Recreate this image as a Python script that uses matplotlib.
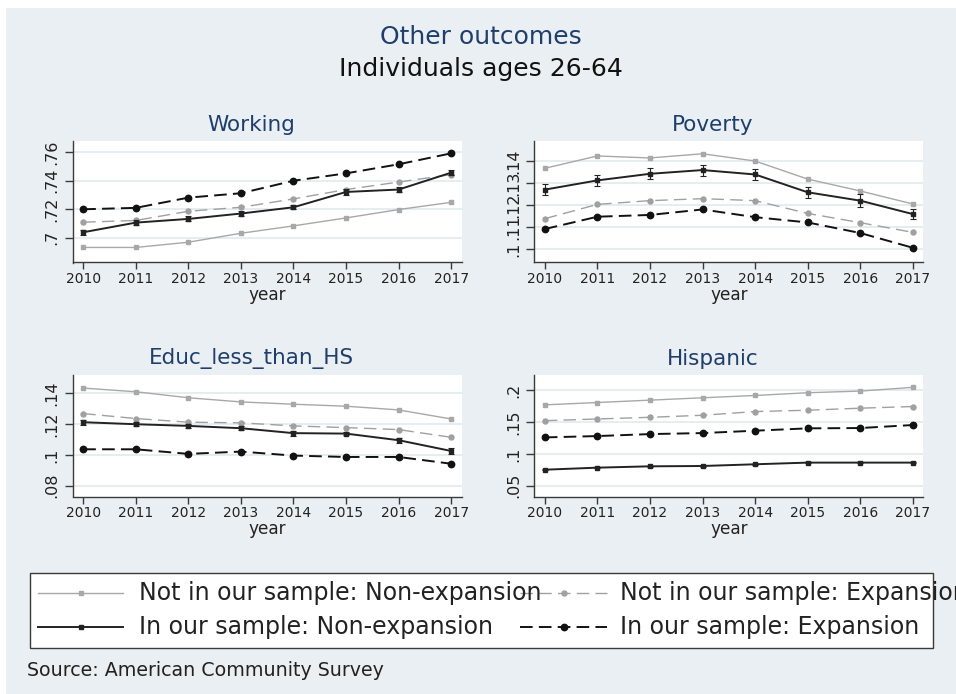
import matplotlib
matplotlib.use("Agg")
import matplotlib.pyplot as plt
from matplotlib.lines import Line2D
from matplotlib.patches import Rectangle
from matplotlib.ticker import FixedLocator, FuncFormatter

plt.rcParams['font.family'] = ['DejaVu Sans']

years = [2010, 2011, 2012, 2013, 2014, 2015, 2016, 2017]
series_names = ["Not in our sample: Non-expansion", "Not in our sample: Expansion",
                "In our sample: Non-expansion", "In our sample: Expansion"]

# Working
work_out_nonexp = [0.693, 0.693, 0.6967, 0.703, 0.7082, 0.7138, 0.7197, 0.7248]
work_out_exp = [0.7108, 0.712, 0.7185, 0.7213, 0.7272, 0.7338, 0.7391, 0.7443]
work_in_nonexp = [0.7037, 0.7105, 0.7131, 0.7169, 0.7213, 0.7321, 0.7338, 0.7457]
work_in_exp = [0.7199, 0.7209, 0.7281, 0.7312, 0.740, 0.7452, 0.7516, 0.7593]
work_in_nonexp_ci = [0.0018, 0.0018, 0.0018, 0.0015, 0.0015, 0.0018, 0.0018, 0.0016]

# Poverty
pov_out_nonexp = [0.1367, 0.1423, 0.1414, 0.1433, 0.140, 0.1318, 0.1264, 0.1205]
pov_out_exp = [0.1138, 0.1203, 0.122, 0.1229, 0.122, 0.1162, 0.112, 0.1076]
pov_in_nonexp = [0.127, 0.1312, 0.1342, 0.1359, 0.1339, 0.1258, 0.122, 0.1159]
pov_in_exp = [0.1091, 0.1147, 0.1155, 0.118, 0.1145, 0.1121, 0.1073, 0.1006]
pov_in_nonexp_ci = [0.0024, 0.0025, 0.0025, 0.0025, 0.0026, 0.0024, 0.0028, 0.0021]

# Educ_less_than_HS
educ_out_nonexp = [0.1435, 0.1411, 0.1372, 0.1345, 0.133, 0.1317, 0.1293, 0.1234]
educ_out_exp = [0.1269, 0.1237, 0.1213, 0.1209, 0.1189, 0.1178, 0.1165, 0.1115]
educ_in_nonexp = [0.1213, 0.120, 0.1189, 0.1174, 0.1142, 0.1139, 0.1096, 0.1026]
educ_in_exp = [0.1037, 0.1037, 0.1007, 0.1022, 0.0996, 0.0987, 0.0987, 0.0943]
educ_in_nonexp_ci = [0.0015, 0.0012, 0.0012, 0.0012, 0.0016, 0.0012, 0.0016, 0.0018]

# Hispanic
hisp_out_nonexp = [0.1768, 0.1805, 0.1842, 0.1879, 0.1915, 0.1958, 0.1984, 0.2042]
hisp_out_exp = [0.152, 0.1547, 0.1573, 0.1605, 0.1663, 0.1684, 0.1716, 0.1742]
hisp_in_nonexp = [0.0752, 0.0784, 0.0805, 0.081, 0.0837, 0.0863, 0.0863, 0.0863]
hisp_in_exp = [0.1258, 0.1279, 0.131, 0.1326, 0.1363, 0.140, 0.1405, 0.1452]
hisp_in_nonexp_ci = [0.0012, 0.0012, 0.0011, 0.0011, 0.0012, 0.0012, 0.0012, 0.0012]

work_ticks = [0.70, 0.72, 0.74, 0.76]
pov_ticks = [0.10, 0.11, 0.12, 0.13, 0.14]
educ_ticks = [0.08, 0.10, 0.12, 0.14]
hisp_ticks = [0.05, 0.10, 0.15, 0.20]

panels = [
    ("Working", work_out_nonexp, work_out_exp, work_in_nonexp, work_in_exp,
     work_in_nonexp_ci, work_ticks, (0.6824, 0.768)),
    ("Poverty", pov_out_nonexp, pov_out_exp, pov_in_nonexp, pov_in_exp,
     pov_in_nonexp_ci, pov_ticks, (0.0939, 0.1491)),
    ("Educ_less_than_HS", educ_out_nonexp, educ_out_exp, educ_in_nonexp, educ_in_exp,
     educ_in_nonexp_ci, educ_ticks, (0.073, 0.152)),
    ("Hispanic", hisp_out_nonexp, hisp_out_exp, hisp_in_nonexp, hisp_in_exp,
     hisp_in_nonexp_ci, hisp_ticks, (0.0332, 0.2236)),
]

# line styles for the four groups (dashes scale with line width)
styles = [
    dict(color='#a8a8a8', ls='-', lw=1.0, marker='s', ms=2.6, mfc='#a8a8a8', mec='#a8a8a8'),
    dict(color='#a0a0a0', ls=(0, (9, 4.5)), lw=1.0, marker='o', ms=3.6, mfc='#a0a0a0', mec='#a0a0a0'),
    dict(color='#222222', ls='-', lw=1.4, marker='s', ms=3.0, mfc='#222222', mec='#222222'),
    dict(color='#111111', ls=(0, (6.5, 3.2)), lw=1.4, marker='o', ms=4.6, mfc='#111111', mec='#111111'),
]

BG = '#e9eff2'
NAVY = '#1f3e6b'
W, H = 956, 694

fig = plt.figure(figsize=(W / 100, H / 100), dpi=100, facecolor='white')
fig.patches.append(Rectangle((6 / W, 0), 1 - 6 / W, 1 - 8 / H, transform=fig.transFigure,
                             facecolor=BG, edgecolor='none', zorder=-10))

# pixel boxes of the four plot regions: left, top
boxes = [(72.7, 141), (534.3, 141), (72.7, 375), (534.3, 375)]
bw, bh = 389, 121.5

fmt = FuncFormatter(lambda v, p: ("%g" % v).lstrip('0'))

for (title, s0, s1, s2, s3, ci, ticks, ylim), (lx, ty) in zip(panels, boxes):
    ax = fig.add_axes([lx / W, 1 - (ty + bh) / H, bw / W, bh / H])
    ax.set_facecolor('white')
    ax.plot(years, s0, **styles[0], zorder=3)
    ax.plot(years, s1, **styles[1], zorder=3)
    ax.errorbar(years, s2, yerr=ci, ecolor='#222222', elinewidth=0.8, capsize=2,
                capthick=0.8, zorder=4, **styles[2])
    ax.plot(years, s3, **styles[3], zorder=5)

    ax.set_xlim(2009.8, 2017.2)
    ax.set_ylim(*ylim)
    ax.set_xticks(years)
    ax.yaxis.set_major_locator(FixedLocator(ticks))
    ax.yaxis.set_major_formatter(fmt)
    ax.grid(axis='y', color='#e3ecef', lw=1.3, zorder=0)
    ax.set_axisbelow(True)
    for sp in ['top', 'right']:
        ax.spines[sp].set_visible(False)
    for sp in ['left', 'bottom']:
        ax.spines[sp].set_color('#3a3a3a')
        ax.spines[sp].set_linewidth(1.0)
    ax.tick_params(axis='x', labelsize=10, length=5, width=1, color='#3a3a3a',
                   labelcolor='#222222', pad=2)
    ax.tick_params(axis='y', labelsize=11.5, length=5.5, width=1, color='#3a3a3a',
                   labelcolor='#222222', labelrotation=90, pad=4)
    for t in ax.get_yticklabels():
        t.set_va('center')
    ax.set_xlabel("year", fontsize=12.2, color='#222222', labelpad=0)
    ax.text(0.5 - 16 / bw, 1 + 16 / bh, title, transform=ax.transAxes, ha='center',
            va='center', fontsize=15.5, color=NAVY)

fig.text(481 / W, 1 - 37 / H, "Other outcomes", ha='center', va='center',
         fontsize=18, color=NAVY)
fig.text(481 / W, 1 - 69 / H, "Individuals ages 26-64", ha='center', va='center',
         fontsize=18, color='#111111')

# legend drawn by hand: two rows, two columns
fig.patches.append(Rectangle((30 / W, 1 - 648 / H), 903 / W, 75 / H, transform=fig.transFigure,
                             facecolor='white', edgecolor='#3a3a3a', lw=1.0, zorder=1))
key_x = [(38, 123), (520, 607)]
text_x = [139, 620]
row_y = [593, 627]
for i, (name, st) in enumerate(zip(series_names, styles)):
    col, row = i % 2, i // 2
    x0, x1 = key_x[col]
    y = 1 - row_y[row] / H
    fig.add_artist(Line2D([x0 / W, x1 / W], [y, y], transform=fig.transFigure,
                          color=st['color'], ls=st['ls'], lw=st['lw'], zorder=2))
    fig.add_artist(Line2D([(x0 + x1) / 2 / W], [y], transform=fig.transFigure,
                          ls='none', marker=st['marker'], ms=st['ms'],
                          mfc=st['mfc'], mec=st['mec'], zorder=3))
    fig.text(text_x[col] / W, y, name, ha='left', va='center', fontsize=17,
             color='#222222', zorder=4)

fig.text(26.7 / W, 1 - 671 / H, "Source: American Community Survey", ha='left',
         va='center', fontsize=13.7, color='#222222')

fig.savefig("out.png", dpi=100, facecolor='white')
